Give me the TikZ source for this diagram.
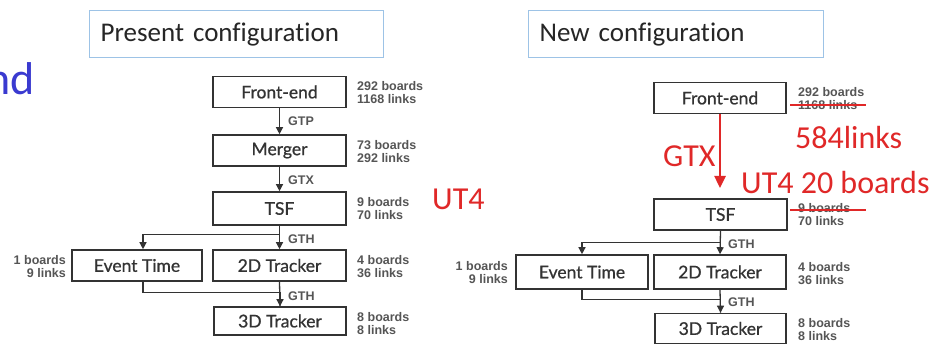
\documentclass[tikz,border=0pt]{standalone}
\usepackage{fontspec}
\setmainfont{Carlito}[Ligatures=NoCommon]
\newfontfamily\boxfont{Lato}[FakeBold=0.8]
\newfontfamily\smallfont{Liberation Sans}
\usetikzlibrary{arrows.meta,calc}
\definecolor{frame}{HTML}{333333}
\definecolor{lbl}{HTML}{555555}
\definecolor{hl}{HTML}{E02828}
\definecolor{titleframe}{HTML}{9DC3E6}
\definecolor{blueword}{HTML}{3A3AD0}
\tikzset{
 blk/.style={draw=frame, line width=1.6pt, minimum width=132pt, minimum height=31pt, inner sep=0pt,
   font=\boxfont\fontsize{17.5}{17.5}\selectfont, text=frame},
 side/.style={font=\smallfont\bfseries\fontsize{12.5}{13}\selectfont, text=lbl, align=left, anchor=west, inner sep=0pt},
 sideR/.style={side, align=right, anchor=east},
 conn/.style={draw=frame, line width=1.3pt},
 arr/.style={conn, -{Triangle[width=7pt,length=7pt]}},
 linklbl/.style={font=\smallfont\bfseries\fontsize{12.5}{13}\selectfont, text=lbl, anchor=west, inner sep=0pt},
 titlebox/.style={draw=titleframe, line width=1.2pt, minimum height=47pt, inner ysep=0pt, inner xsep=11pt,
   align=left, text=black!85, font=\fontsize{27}{27}\selectfont, anchor=north west},
 redtxt/.style={text=hl, font=\fontsize{32}{32}\selectfont, inner sep=0pt, anchor=west},
 redarr/.style={draw=hl, line width=2.5pt, -{Triangle[width=11pt,length=12pt]}},
 strike/.style={draw=hl, line width=1.1pt}
}
\begin{document}
\begin{tikzpicture}[x=1pt,y=-1pt]
\useasboundingbox (0,0) rectangle (936,344);
\fill[white] (0,0) rectangle (936,344);

% blue fragment
\node[text=blueword, font=\fontsize{46}{46}\selectfont, inner sep=0pt, anchor=base east] (frag) at (35,95) {nd};

% ---------- left panel ----------
\node[titlebox, text width=272pt] (t1) at (89,10) {Present configuration};

\node[blk, minimum width=133pt] (fe1) at (279.5,92) {Front-end};
\node[blk, minimum width=133pt] (mg1) at (279.5,150.5) {Merger};
\node[blk, minimum width=133pt, minimum height=33pt] (tsf1) at (279.5,208.5) {TSF};
\node[blk, minimum width=130pt] (et1) at (137,265.5) {Event Time};
\node[blk, minimum width=133pt] (td1) at (279.5,265.5) {2D Tracker};
\node[blk, minimum width=132pt, minimum height=28pt] (t3d1) at (280,321) {3D Tracker};

\node[side] (s1) at (357,92.5) {292 boards\\1168 links};
\node[side] (s2) at (357,151.5) {73 boards\\292 links};
\node[side] (s3) at (357,208.5) {9 boards\\70 links};
\node[side] (s4) at (357,267) {4 boards\\36 links};
\node[side] (s5) at (357,323.5) {8 boards\\8 links};
\node[sideR] (s6) at (66,266.5) {1 boards\\9 links};

\draw[arr] (fe1) -- (mg1);
\draw[arr] (mg1) -- (tsf1);
\draw[arr] (tsf1.south) -- (td1.north);
\draw[arr] (tsf1.south) ++(0,9) -| ([xshift=6pt]et1.north);
\draw[conn] (td1.south) -- (t3d1.north);
\draw[arr] ([xshift=6pt]et1.south) -- ++(0,11) -| (t3d1.north);

\node[linklbl] (l1) at (288,121) {GTP};
\node[linklbl] (l2) at (288,180) {GTX};
\node[linklbl] (l3) at (288,239) {GTH};
\node[linklbl] (l4) at (288,296) {GTH};

\node[redtxt] (ut4a) at (432,199) {UT4};

% ---------- right panel ----------
\node[titlebox, text width=273pt] (t2) at (528,10) {New configuration};

\node[blk] (fe2) at (720,98) {Front-end};
\node[blk, minimum width=133pt] (tsf2) at (720.5,214.5) {TSF};
\node[blk, minimum height=34pt] (et2) at (582,272) {Event Time};
\node[blk, minimum height=34pt] (td2) at (720,272) {2D Tracker};
\node[blk, minimum width=131pt, minimum height=30pt] (t3d2) at (720.5,328.5) {3D Tracker};

\node[side] (r1) at (798,92) {292 boards};
\node[side] (r2) at (798,105) {1168 links};
\node[side] (r3) at (798,208) {9 boards};
\node[side] (r4) at (798,221.5) {70 links};
\node[side] (r5) at (798,273.5) {4 boards\\36 links};
\node[side] (r6) at (798,329.5) {8 boards\\8 links};
\node[sideR] (r7) at (508,273) {1 boards\\9 links};

\draw[strike] ([xshift=-8pt]r2.west) -- (r2.west -| 866,0);
\draw[strike] ([xshift=-8pt,yshift=-2pt]r3.west) -- ([yshift=-2pt]r3.west -| 866,0);

\coordinate (gtxend) at (720,188);
\draw[redarr] (fe2.south) -- (gtxend);
\node[redtxt] (gtx) at (663,156) {GTX};
\node[redtxt] (l584) at (795,138) {584links};
\node[redtxt] (ut4b) at (741,183) {UT4 20 boards};

\draw[arr] (tsf2.south) -- (td2.north);
\draw[arr] (tsf2.south) ++(0,12) -| (et2.north);
\draw[conn] (td2.south) -- (t3d2.north);
\draw[arr] (et2.south) -- ++(0,10) -| (t3d2.north);

\node[linklbl] (l5) at (728,244) {GTH};
\node[linklbl] (l6) at (728,302) {GTH};
\end{tikzpicture}
\end{document}
